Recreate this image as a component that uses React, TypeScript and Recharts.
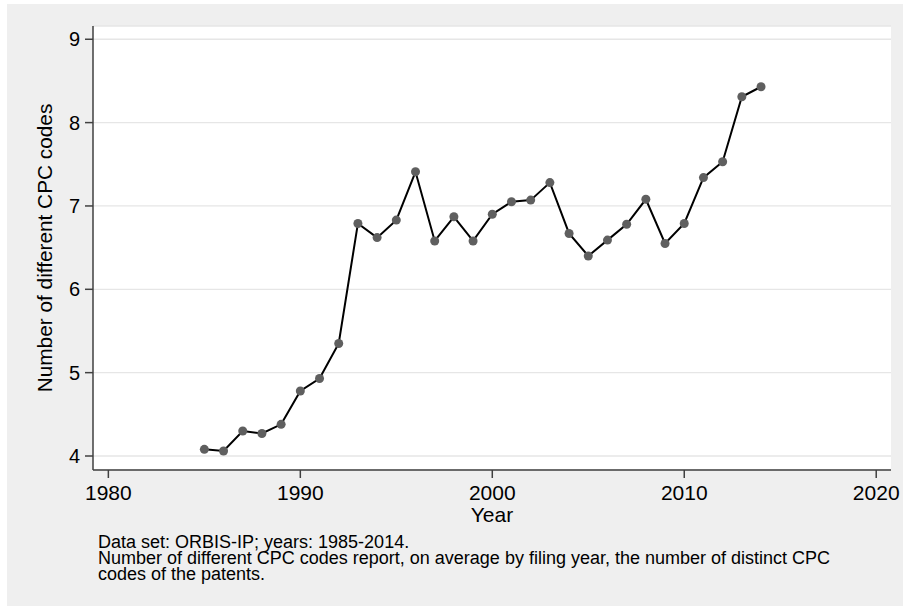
import React from "react";
import { CartesianGrid, Line, LineChart, XAxis, YAxis } from "recharts";

// filing years and average number of distinct CPC codes
const years = [
  1985, 1986, 1987, 1988, 1989, 1990, 1991, 1992, 1993, 1994, 1995, 1996, 1997, 1998, 1999,
  2000, 2001, 2002, 2003, 2004, 2005, 2006, 2007, 2008, 2009, 2010, 2011, 2012, 2013, 2014,
];
const cpcCodes = [
  4.08, 4.06, 4.3, 4.27, 4.38, 4.78, 4.93, 5.35, 6.79, 6.62, 6.83, 7.41, 6.58, 6.87, 6.58,
  6.9, 7.05, 7.07, 7.28, 6.67, 6.4, 6.59, 6.78, 7.08, 6.55, 6.79, 7.34, 7.53, 8.31, 8.43,
];
const xTicks = [1980, 1990, 2000, 2010, 2020];
const yTicks = [4, 5, 6, 7, 8, 9];
const yTitle = "Number of different CPC codes";
const xTitle = "Year";
const notes = [
  "Data set: ORBIS-IP; years: 1985-2014.",
  "Number of different CPC codes report, on average by filing year, the number of distinct CPC",
  "codes of the patents.",
];

const data = years.map((year, i) => ({ year, value: cpcCodes[i] }));

const font = '"Liberation Sans", Arial, Helvetica, sans-serif';
const axisColor = "#404040";

export default function App() {
  return (
    <div
      style={{
        position: "absolute",
        left: 0,
        top: 0,
        width: 903,
        height: 606,
        background: "#fff",
        fontFamily: font,
        overflow: "hidden",
      }}
    >
      <div
        style={{
          position: "absolute",
          left: 7,
          top: 4,
          width: 896,
          height: 602,
          background: "#efefef",
        }}
      />
      <div style={{ position: "absolute", left: 0, top: 0 }}>
        <LineChart
          width={903}
          height={530}
          data={data}
          margin={{ top: 26, right: 12, bottom: 0, left: 0 }}
        >
          <CartesianGrid
            horizontal={true}
            vertical={false}
            fill="#fff"
            stroke="#e6e6e6"
            strokeWidth={1.3}
          />
          <XAxis
            dataKey="year"
            type="number"
            domain={[1979.2, 2020.77]}
            ticks={xTicks}
            allowDataOverflow
            height={60}
            tickSize={8}
            tickMargin={7}
            stroke={axisColor}
            strokeWidth={1.5}
            tick={{ fill: "#000", fontSize: 21, fontFamily: font }}
          />
          <YAxis
            type="number"
            domain={[3.832, 9.159]}
            ticks={yTicks}
            allowDataOverflow
            width={93}
            tickSize={8}
            tickMargin={5}
            stroke={axisColor}
            strokeWidth={1.5}
            tick={{ fill: "#000", fontSize: 20, fontFamily: font }}
          />
          <Line
            dataKey="value"
            type="linear"
            stroke="#000"
            strokeWidth={2}
            dot={{ r: 4.5, fill: "#5f5f5f", stroke: "none" }}
            isAnimationActive={false}
          />
        </LineChart>
      </div>
      <svg
        width={903}
        height={606}
        style={{ position: "absolute", left: 0, top: 0, pointerEvents: "none" }}
      >
        <text
          transform="rotate(-90)"
          x={-248}
          y={52}
          textAnchor="middle"
          fontSize={20.8}
          fontFamily={font}
          fill="#000"
        >
          {yTitle}
        </text>
        <text x={492} y={521.5} textAnchor="middle" fontSize={21} fontFamily={font} fill="#000">
          {xTitle}
        </text>
        {notes.map((line, i) => (
          <text key={i} x={98} y={548 + i * 16} fontSize={18} fontFamily={font} fill="#000">
            {line}
          </text>
        ))}
      </svg>
    </div>
  );
}
